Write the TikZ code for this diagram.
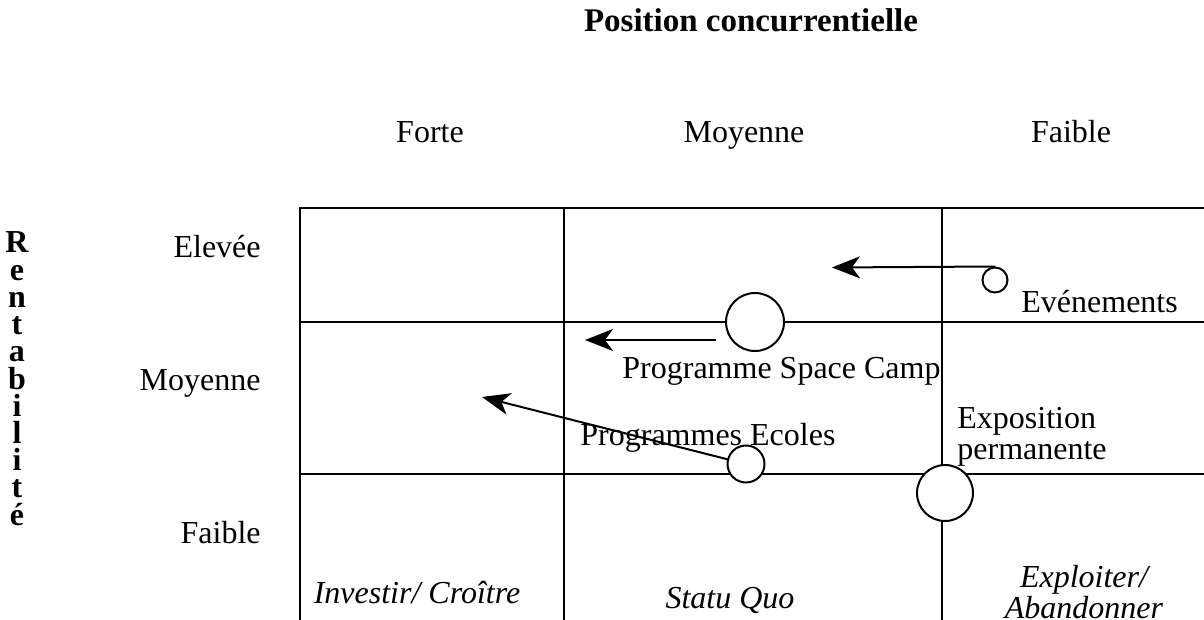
\documentclass[tikz,border=0pt]{standalone}
\usepackage{fontspec}
\setmainfont{Liberation Serif}
\usetikzlibrary{arrows.meta, positioning}
\tikzset{
  gridline/.style = {line width=1pt, black},
  flow/.style     = {-{Stealth[length=14pt, width=11pt, inset=4pt]}, line width=1pt},
  unit/.style     = {circle, draw, line width=1pt, fill=white, inner sep=0pt,
                     minimum size=#1},
  lbl/.style      = {font=\fontsize{16}{19}\selectfont, inner sep=0pt},
  ttl/.style      = {font=\fontsize{16.5}{19}\selectfont\bfseries, inner sep=0pt},
  vlet/.style     = {font=\fontsize{16}{19}\selectfont\bfseries, inner sep=0pt},
  strat/.style    = {font=\fontsize{16}{13}\selectfont\itshape, align=center,
                     inner sep=0pt},
}

\begin{document}
\begin{tikzpicture}[x=0.5pt, y=-0.5pt]
  \useasboundingbox (0,0) rectangle (1204,620);
  \clip (0,0) rectangle (1204,620);
  % axis titles
  \node[ttl, anchor=base] (title) at (751,32) {Position concurrentielle};
  \foreach \ch [count=\i from 0] in {R,e,n,t,a,b,i,l,i,t,é} {
    \node[vlet, anchor=base] (v\i) at (17,{253+27.2*\i}) {\ch};
  }
  % column and row headings
  \node[lbl, anchor=base] (cForte)   at (430,143)  {Forte};
  \node[lbl, anchor=base] (cMoyenne) at (744,143)  {Moyenne};
  \node[lbl, anchor=base] (cFaible)  at (1071,143) {Faible};
  \node[lbl, anchor=base east] (rElevee)  at (261,257) {Elevée};
  \node[lbl, anchor=base east] (rMoyenne) at (261,390) {Moyenne};
  \node[lbl, anchor=base east] (rFaible)  at (261,543) {Faible};
  % the 3x3 grid, open at the right and bottom
  \draw[gridline] (300,208) rectangle (1240,660);
  \draw[gridline] (564,208) -- (564,660);
  \draw[gridline] (942,208) -- (942,660);
  \draw[gridline] (300,322) -- (1240,322);
  \draw[gridline] (300,474) -- (1240,474);
  % activities and where they are heading
  \coordinate (evTip) at (832,267.5);
  \coordinate (scTail) at (716,340);
  \coordinate (scTip) at (585,340);
  \coordinate (ecTip) at (482,397);
  \node[unit=12.5pt] (ev) at (995,280) {};
  \node[unit=29pt]   (sc) at (755,322) {};
  \node[unit=18.5pt] (ec) at (746,464) {};
  \node[unit=28pt]   (ex) at (945,493) {};
  \draw[flow] (ev.north) -- (evTip);
  \draw[flow] (scTail) -- (scTip);
  \draw[flow] (ec) -- (ecTip);
  \node[lbl, anchor=base west] (evLbl) at (1021,312) {Evénements};
  \node[lbl, anchor=base west] (scLbl) at (622,378) {Programme Space Camp};
  \node[lbl, anchor=base west] (ecLbl) at (580,445) {Programmes Ecoles};
  \node[lbl, anchor=north west, align=left,
        font=\fontsize{16}{15.5}\selectfont] (exLbl) at (957,407)
        {Exposition\\permanente};
  % strategies per column
  \node[strat, anchor=base] (sInv)  at (417,603) {Investir/ Croître};
  \node[strat, anchor=base] (sStat) at (730,608) {Statu Quo};
  \node[strat, anchor=north] (sExp) at (1084,565) {Exploiter/\\Abandonner};
\end{tikzpicture}
\end{document}
